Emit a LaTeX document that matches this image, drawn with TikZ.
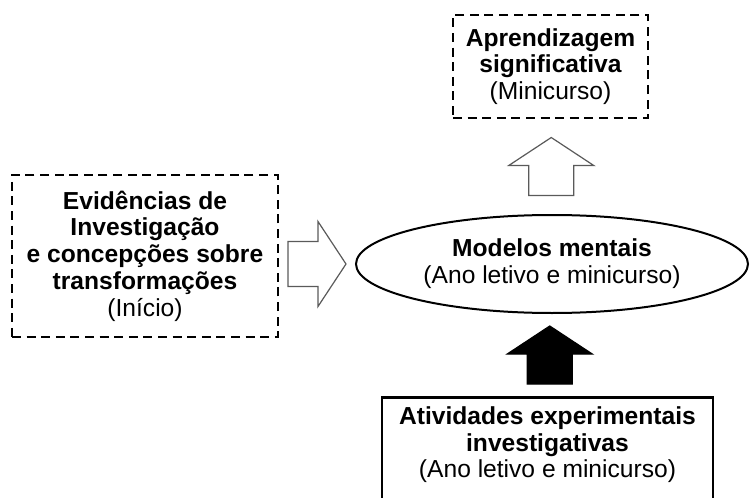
\documentclass[tikz,border=0pt]{standalone}
\usepackage{fontspec}
\setmainfont{Liberation Sans}
\usetikzlibrary{calc,positioning,shapes.geometric}
\definecolor{arrowGray}{HTML}{5A5A5A}

\tikzset{
  blockarrow/.pic={
    \draw[pic actions] (-29,-22.5) -- (1,-22.5) -- (1,-42.5) -- (29,0)
      -- (1,42.5) -- (1,22.5) -- (-29,22.5) -- cycle;
  }
}

\begin{document}
\begin{tikzpicture}[x=0.5pt,y=-0.5pt,
  txt/.style={align=center,font=\fontsize{12.3pt}{13.4pt}\selectfont,text=black},
  dashbox/.style={txt,draw,line width=1pt,dash pattern=on 4.5pt off 2.8pt,inner sep=0pt},
  ovalbox/.style={txt,ellipse,draw,line width=1pt,inner sep=0pt,minimum width=196pt,minimum height=49pt},
  solidbox/.style={txt,draw,line width=1.4pt,minimum width=165.5pt,inner ysep=4.5pt},
  hollowarrow/.style={draw=arrowGray,fill=white,line width=0.6pt},
  fullarrow/.style={draw=black,fill=black,line width=0.6pt}
]
  \useasboundingbox (0,0) rectangle (751,498);

  % boxes
  \node[dashbox,minimum width=97.5pt,minimum height=51.5pt] (aprend) at (550.5,66.5)
    {\textbf{Aprendizagem}\\\textbf{significativa}\\(Minicurso)};
  \node[dashbox,minimum width=133pt,minimum height=81pt] (evid) at (145,256)
    {\textbf{Evidências de}\\\textbf{Investigação}\\\textbf{e concepções sobre}\\\textbf{transformações}\\(Início)};
  \node[ovalbox] (modelos) at (552,264)
    {\textbf{Modelos mentais}\\(Ano letivo e minicurso)};
  \node[solidbox,anchor=north,text depth=30pt] (ativ) at (547.5,396)
    {\textbf{Atividades experimentais}\\\textbf{investigativas}\\(Ano letivo e minicurso)};

  % block arrows between the boxes
  \pic[hollowarrow] at ($(evid.east |- modelos.west)!0.5!(modelos.west)$) {blockarrow};
  \pic[hollowarrow,rotate=90] at ($(modelos.north)!0.5!(aprend.south)$) {blockarrow};
  \pic[fullarrow,rotate=90] at ($(ativ.north)!0.5!(modelos.south)$) {blockarrow};
\end{tikzpicture}
\end{document}
